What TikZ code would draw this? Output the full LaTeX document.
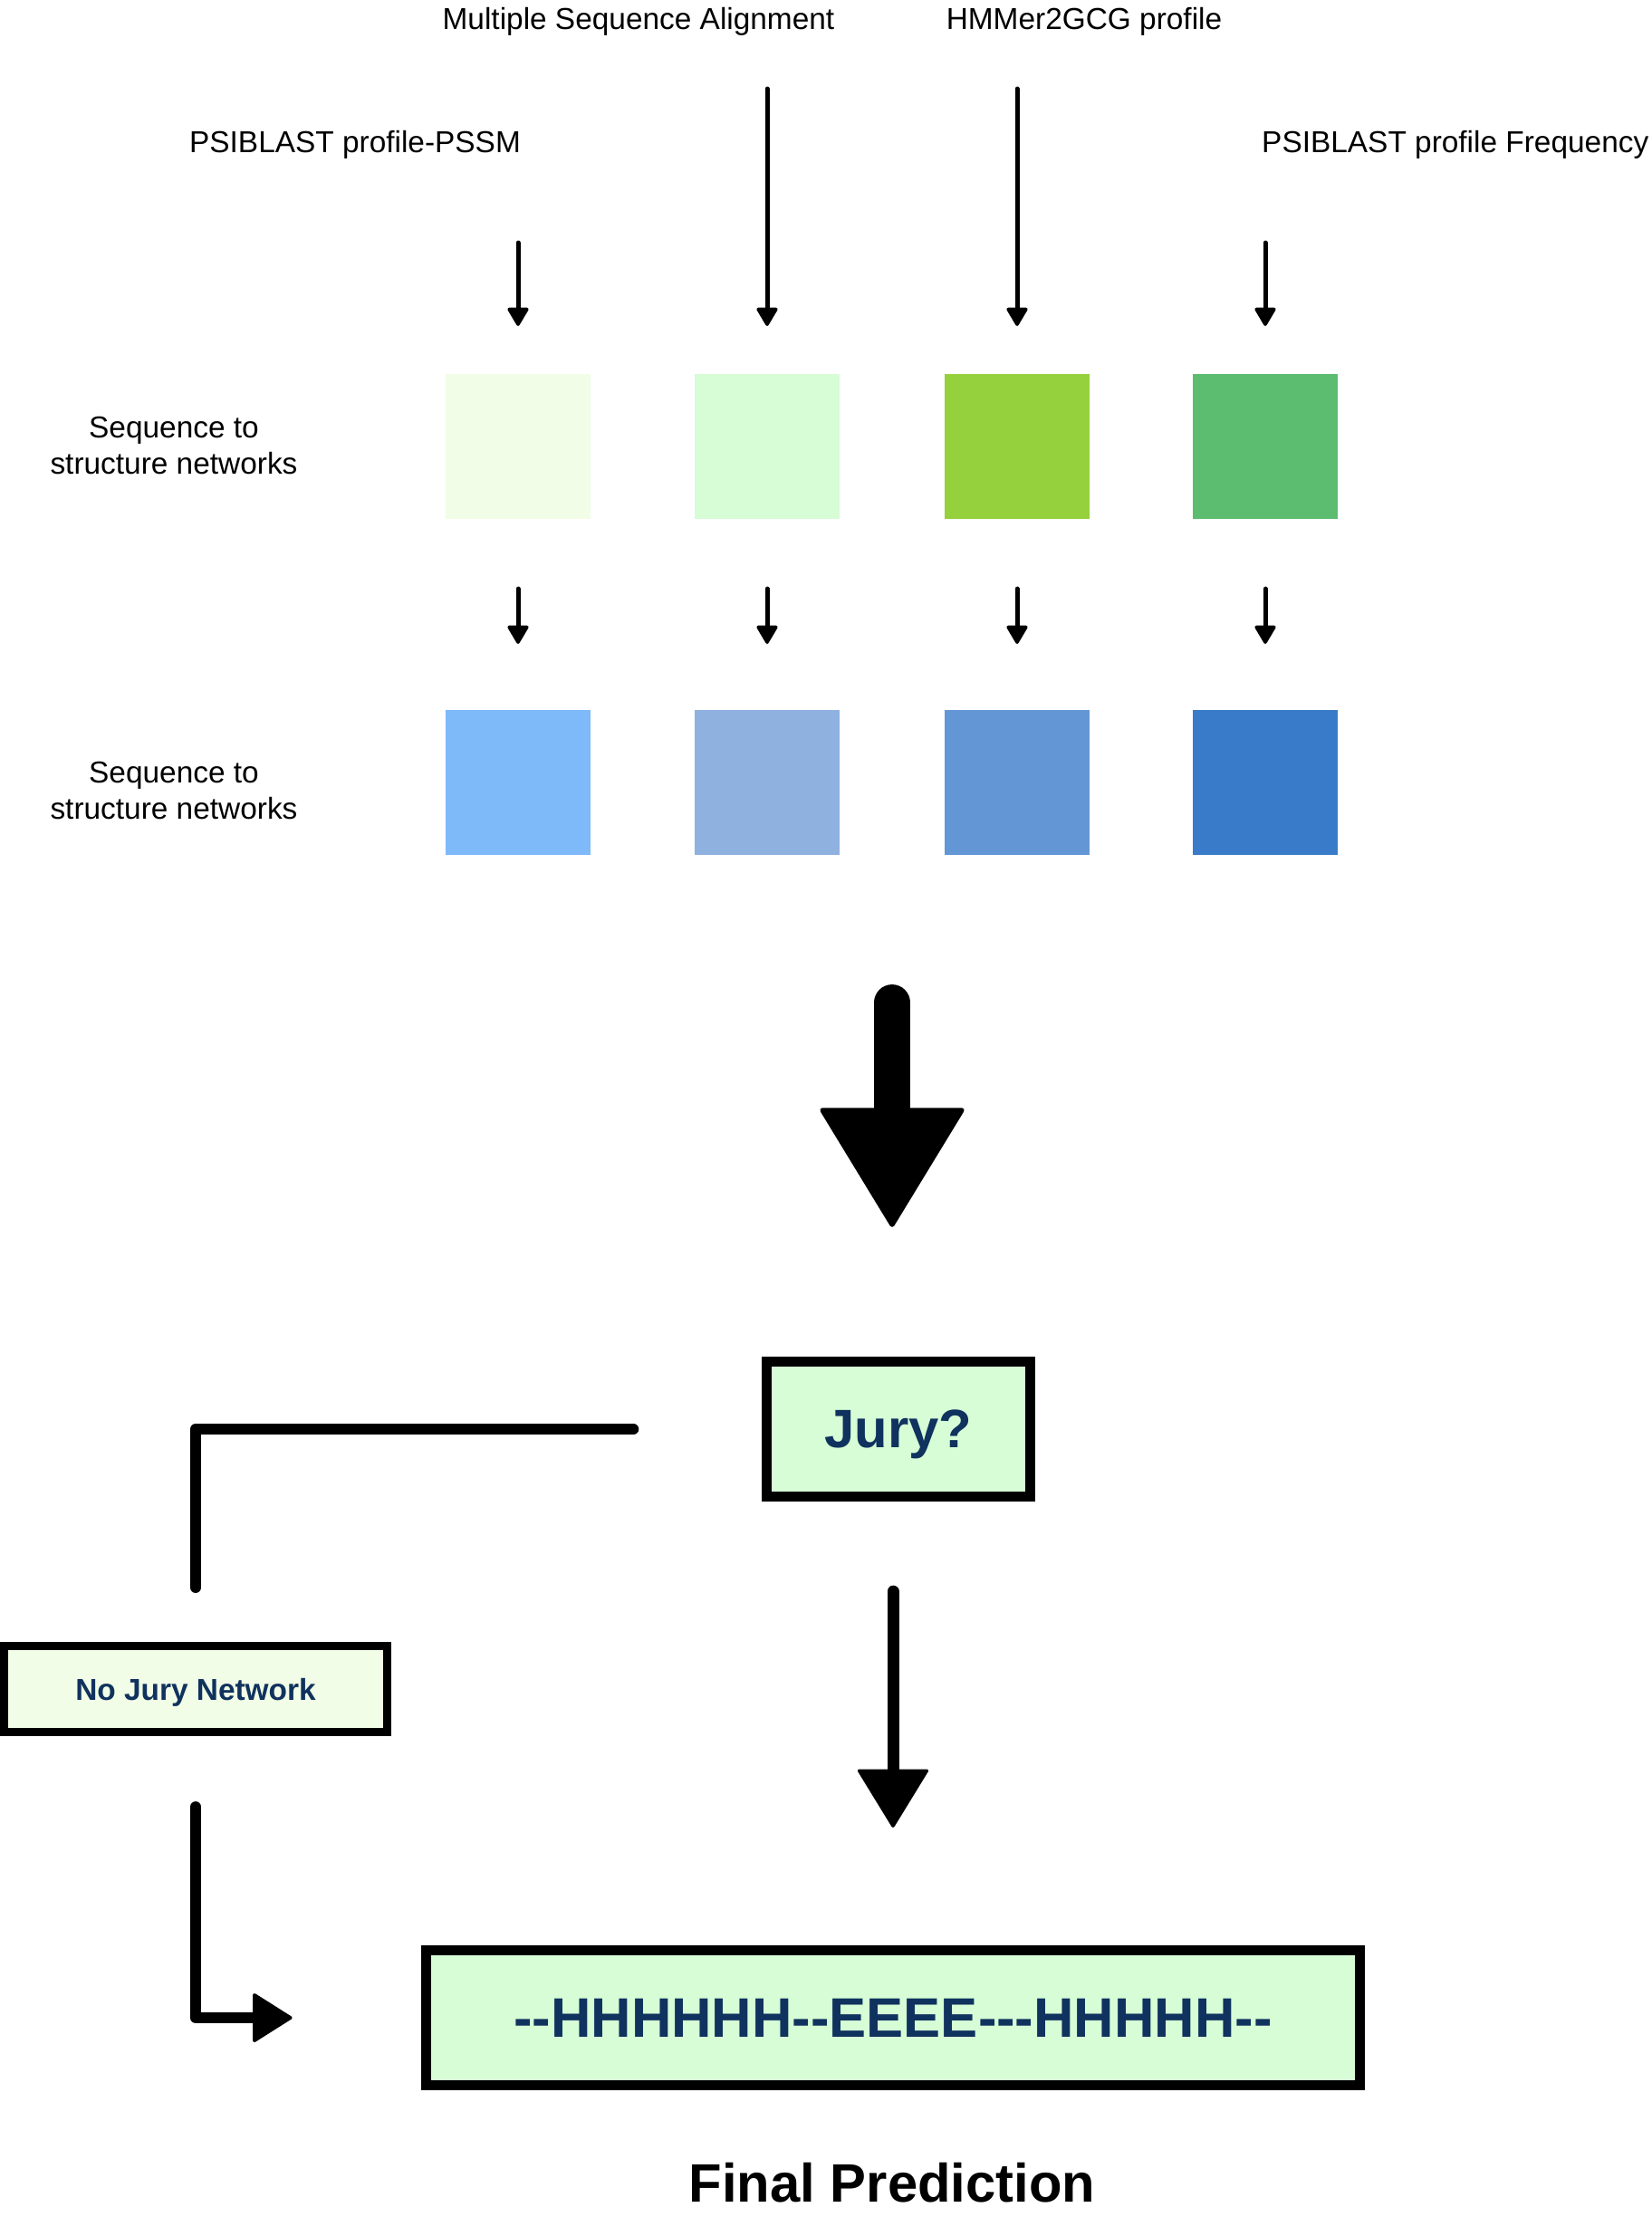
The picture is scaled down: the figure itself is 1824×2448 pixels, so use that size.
\documentclass[tikz,border=0pt]{standalone}
\usepackage{fontspec}
\setmainfont{Liberation Sans}
\usetikzlibrary{arrows.meta}
\definecolor{seq_pssm_col}{RGB}{241,253,230}
\definecolor{seq_msa_col}{RGB}{214,253,214}
\definecolor{seq_hmm_col}{RGB}{149,209,60}
\definecolor{seq_freq_col}{RGB}{92,189,112}
\definecolor{str_pssm_col}{RGB}{126,185,249}
\definecolor{str_msa_col}{RGB}{142,177,223}
\definecolor{str_hmm_col}{RGB}{99,150,213}
\definecolor{str_freq_col}{RGB}{57,123,200}
\definecolor{navy}{RGB}{16,50,94}
\begin{document}
\begin{tikzpicture}[x=0.01cm,y=-0.01cm,
label_text/.style={font=\fontsize{9.5}{11.4}\selectfont, inner sep=0pt},
net_box/.style={minimum size=1.6cm, inner sep=0pt, outer sep=0pt},
jury_box/.style={draw, line width=3.13pt, fill=seq_msa_col, text=navy, inner sep=0pt, text depth=0pt},
thin_arrow/.style={line width=1.42pt, line cap=round, -{Triangle[length=0.22cm, width=0.25cm, round, line width'=1pt]}},
mid_arrow/.style={line width=3.7pt, line cap=round, -{Triangle[length=0.66cm, width=0.8cm, round, line width'=1pt]}},
big_arrow/.style={line width=11.4pt, line cap=round, -{Triangle[length=1.34cm, width=1.62cm, round, line width'=1.5pt]}},
side_arrow/.style={line width=3.41pt, line cap=round, line join=round, -{Triangle[length=0.45cm, width=0.56cm, round, line width'=1pt]}},
thick_line/.style={line width=3.41pt, line cap=round, line join=round}]
\useasboundingbox (0,0) rectangle (1824,2448);
% TEXT
\node[label_text, anchor=base] at (705,32) (src_msa) {Multiple Sequence Alignment};
\node[label_text, anchor=base] at (1197,32) (src_hmm) {HMMer2GCG profile};
\node[label_text, anchor=base] at (392,168) (src_pssm) {PSIBLAST profile-PSSM};
\node[label_text, anchor=base east] at (1821,168) (src_freq) {PSIBLAST profile Frequency};
\node[label_text, align=center] at (192,492) (seq_label) {Sequence to\\structure networks};
\node[label_text, align=center] at (192,873) (str_label) {Sequence to\\structure networks};
\begin{scope} % Green networks
\node[net_box, fill=seq_pssm_col] at (572,493) (seq_pssm) {};
\node[net_box, fill=seq_msa_col] at (847,493) (seq_msa) {};
\node[net_box, fill=seq_hmm_col] at (1123,493) (seq_hmm) {};
\node[net_box, fill=seq_freq_col] at (1397,493) (seq_freq) {};
\end{scope}
\begin{scope} % Blue networks
\node[net_box, fill=str_pssm_col] at (572,864) (str_pssm) {};
\node[net_box, fill=str_msa_col] at (847,864) (str_msa) {};
\node[net_box, fill=str_hmm_col] at (1123,864) (str_hmm) {};
\node[net_box, fill=str_freq_col] at (1397,864) (str_freq) {};
\end{scope}
% Inputs
\coordinate (in_pssm) at (572,268);
\coordinate (in_msa) at (847,98);
\coordinate (in_hmm) at (1123,98);
\coordinate (in_freq) at (1397,268);
\draw[thin_arrow, shorten >=0.53cm] (in_pssm) -- (seq_pssm);
\draw[thin_arrow, shorten >=0.53cm] (in_msa) -- (seq_msa);
\draw[thin_arrow, shorten >=0.53cm] (in_hmm) -- (seq_hmm);
\draw[thin_arrow, shorten >=0.53cm] (in_freq) -- (seq_freq);
\draw[thin_arrow, shorten <=0.77cm, shorten >=0.73cm] (seq_pssm) -- (str_pssm);
\draw[thin_arrow, shorten <=0.77cm, shorten >=0.73cm] (seq_msa) -- (str_msa);
\draw[thin_arrow, shorten <=0.77cm, shorten >=0.73cm] (seq_hmm) -- (str_hmm);
\draw[thin_arrow, shorten <=0.77cm, shorten >=0.73cm] (seq_freq) -- (str_freq);
% Jury
\node[jury_box, minimum width=2.9cm, minimum height=1.49cm, font=\fontsize{17}{20}\selectfont\bfseries] at (992,1578) (jury) {Jury?};
\node[jury_box, fill=seq_pssm_col, line width=2.56pt, minimum width=4.22cm, minimum height=0.95cm, font=\fontsize{9.5}{11.4}\selectfont\bfseries] at (216,1865) (nojury) {No Jury Network};
\node[jury_box, minimum width=10.31cm, minimum height=1.49cm, font=\fontsize{17.5}{21}\selectfont\bfseries] at (986,2228) (final) {-{}-HHHHHH-{}-EEEE-{}-{}-HHHHH-{}-};
\node[font=\fontsize{17}{20}\selectfont\bfseries, inner sep=0pt, anchor=base] at (985,2431) (final_label) {Final Prediction};
\coordinate (merge) at (985,945);
\draw[big_arrow, shorten <=1.62cm, shorten >=1.43cm] (merge) -- (merge |- jury.north);
\draw[mid_arrow, shorten <=0.99cm, shorten >=1.30cm] (final |- jury.south) -- (final.north);
\draw[thick_line, shorten <=1.42cm, shorten >=0.60cm] (jury.west) -| (nojury.north);
\draw[side_arrow, shorten <=0.78cm, shorten >=1.42cm] (nojury.south) |- (final.west);
\end{tikzpicture}
\end{document}
